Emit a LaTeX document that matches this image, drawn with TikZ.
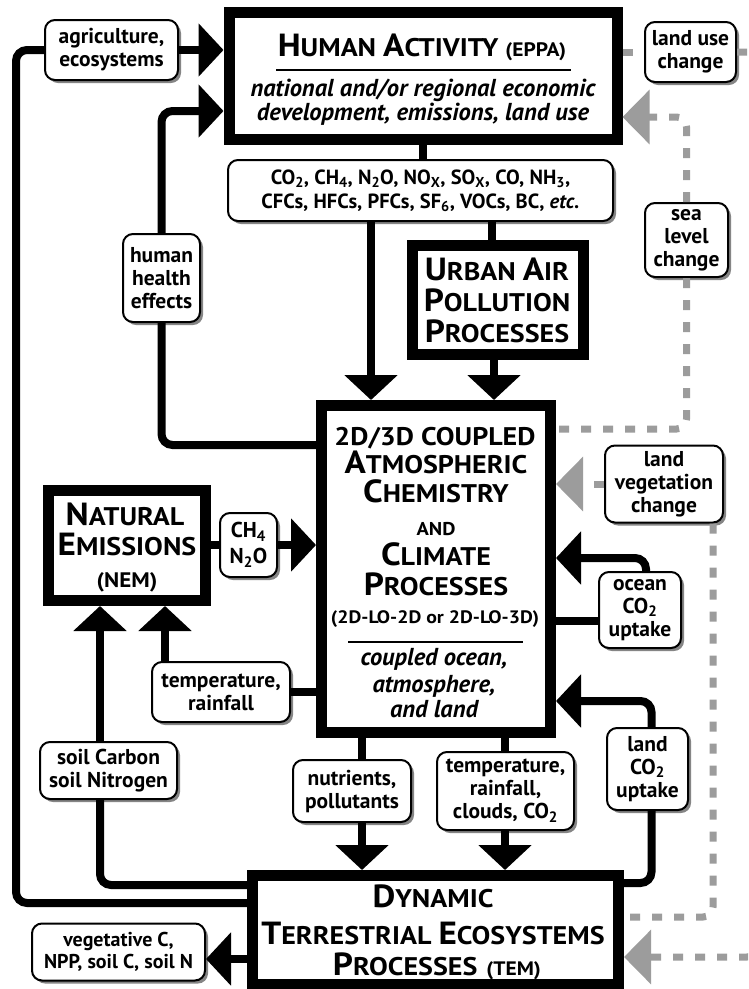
\documentclass[tikz,border=0pt]{standalone}
\usepackage{fontspec}
\setmainfont{PT Sans}
\newfontfamily\capf[FakeStretch=1.1]{PT Sans}
\usetikzlibrary{arrows.meta,shadows}
\definecolor{dgray}{HTML}{9C9C9C}
\definecolor{shgray}{HTML}{858585}
\newcommand\Bg[1]{{\fontsize{32}{32}\selectfont #1}}
\newcommand\Sm[1]{{\fontsize{25.5}{25.5}\selectfont #1}}
\newcommand\Tn[1]{{\fontsize{19.5}{19.5}\selectfont #1}}
\newcommand\sub[1]{\textsubscript{#1}}
\tikzset{
 conn/.style={line width=8pt, rounded corners=11pt},
 tip/.style={-{Triangle[length=25pt,width=52pt]}},
 gconn/.style={line width=7pt, draw=dgray, dash pattern=on 10pt off 12pt, rounded corners=10pt},
 gtip/.style={-{Triangle[length=27pt,width=53pt]}},
 bigbox/.style={draw, line width=11pt, inner sep=0pt, outer sep=5.5pt, fill=white},
 lab/.style={draw, line width=2pt, rounded corners=10pt, fill=white, inner sep=0pt, outer sep=1pt, align=center,
   font=\fontsize{21.5}{23}\selectfont\bfseries,
   drop shadow={shadow xshift=3pt, shadow yshift=-3pt, fill=shgray, opacity=1}},
 tx/.style={inner sep=0pt, anchor=base, font=\capf\fontsize{25.5}{25.5}\selectfont\bfseries},
 itx/.style={inner sep=0pt, anchor=base, font=\fontsize{24.5}{24.5}\selectfont\bfseries\itshape},
}
\begin{document}
\begin{tikzpicture}[x=1pt,y=-1pt]
\useasboundingbox (0,0) rectangle (748,989);
\clip (0,0) rectangle (748,989);
\fill[white] (0,0) rectangle (748,989);

% big boxes
\node[bigbox, minimum width=388pt, minimum height=127pt] (ha) at (423,75.5) {};
\node[bigbox, minimum width=171pt, minimum height=109pt] (urban) at (498,300) {};
\node[bigbox, minimum width=229pt, minimum height=327pt] (atm) at (436,569) {};
\node[bigbox, minimum width=157pt, minimum height=110pt] (nem) at (127,545.5) {};
\node[bigbox, minimum width=366pt, minimum height=109pt] (tem) at (435.5,930) {};

% texts of big boxes
\node[tx] (hat) at (422,56) {\Bg{H}\Sm{UMAN} \Bg{A}\Sm{CTIVITY} \Tn{(EPPA)}};
\draw[line width=2pt] (276,70) -- (571,70);
\node[itx] (hai1) at (423,96) {national and/or regional economic};
\node[itx] (hai2) at (423,120) {development, emissions, land use};

\node[tx] (ut1) at (497,280) {\Bg{U}\Sm{RBAN} \Bg{A}\Sm{IR}};
\node[tx] (ut2) at (497,311) {\Bg{P}\Sm{OLLUTION}};
\node[tx] (ut3) at (497,342) {\Bg{P}\Sm{ROCESSES}};

\node[tx] (at1) at (435,445) {2D/3D COUPLED};
\node[tx] (at2) at (436,473) {\Bg{A}\Sm{TMOSPHERIC}};
\node[tx] (at3) at (436,502) {\Bg{C}\Sm{HEMISTRY}};
\node[tx] (at4) at (436,535) {\fontsize{18.5}{18.5}\selectfont AND};
\node[tx] (at5) at (436,565) {\Bg{C}\Sm{LIMATE}};
\node[tx] (at6) at (436,595) {\Bg{P}\Sm{ROCESSES}};
\node[tx] (at7) at (435,623) {\fontsize{18}{18}\selectfont (2D-LO-2D or 2D-LO-3D)};
\draw[line width=2pt] (348,642) -- (523,642);
\node[itx] (at8) at (434,665) {coupled ocean,};
\node[itx] (at9) at (434,692) {atmosphere,};
\node[itx] (at10) at (434,717) {and land};

\node[tx] (nt1) at (125,525) {\Bg{N}\Sm{ATURAL}};
\node[tx] (nt2) at (127,555) {\Bg{E}\Sm{MISSIONS}};
\node[tx] (nt3) at (127,587) {\fontsize{21}{21}\selectfont (NEM)};

\node[tx] (tt1) at (433,907) {\Bg{D}\Sm{YNAMIC}};
\node[tx] (tt2) at (433,944) {\Bg{T}\Sm{ERRESTRIAL} \Bg{E}\Sm{COSYSTEMS}};
\node[tx] (tt3) at (437,975) {\Bg{P}\Sm{ROCESSES}\hspace{9pt}\Tn{(TEM)}};

% label boxes
\node[lab, minimum width=133pt, minimum height=60pt] (agri) at (111.5,50) {agriculture,\\ecosystems};
\node[lab, minimum width=91pt, minimum height=60pt] (lu) at (690.5,52) {land use\\change};
\node[lab, minimum width=385pt, minimum height=61pt, font=\fontsize{20.5}{24}\selectfont\bfseries] (emis) at (420.5,190.5)
 {CO\sub2, CH\sub4, N\sub2O, NO\sub{X}, SO\sub{X}, CO, NH\sub3,\\CFCs, HFCs, PFCs, SF\sub6, VOCs, BC, \textit{etc.}};
\node[lab, minimum width=77pt, minimum height=88pt] (hhe) at (161.5,278) {human\\health\\effects};
\node[lab, minimum width=83pt, minimum height=74pt] (sea) at (686.5,240) {sea\\level\\change};
\node[lab, minimum width=57pt, minimum height=64pt, font=\fontsize{21.5}{26}\selectfont\bfseries] (ch) at (248.5,545) {CH\sub4\\N\sub2O};
\node[lab, minimum width=118pt, minimum height=77pt] (lvc) at (664,484) {land\\vegetation\\change};
\node[lab, minimum width=82pt, minimum height=76pt] (ocean) at (640,610) {ocean\\CO\sub2\\uptake};
\node[lab, minimum width=138pt, minimum height=60pt] (temprain) at (221,692) {temperature,\\rainfall};
\node[lab, minimum width=137pt, minimum height=57pt] (soil) at (108.5,770.5) {soil Carbon\\soil Nitrogen};
\node[lab, minimum width=118pt, minimum height=62pt] (nut) at (352,791) {nutrients,\\pollutants};
\node[lab, minimum width=137pt, minimum height=78pt] (tcl) at (505.5,791) {temperature,\\rainfall,\\clouds, CO\sub2};
\node[lab, minimum width=81pt, minimum height=82pt] (lco) at (647.5,769) {land\\CO\sub2\\uptake};
\node[lab, minimum width=173pt, minimum height=57pt, font=\fontsize{20}{22}\selectfont\bfseries] (veg) at (118.5,952) {vegetative C,\\NPP, soil C, soil N};

% black connectors
\coordinate (cl) at (16,50);
\draw[conn] ([yshift=27pt]tem.west) -| (cl) -- (agri.west);
\draw[conn,tip] (agri.east) -- (agri.east -| ha.west);
\draw[conn] ([yshift=124pt]atm.west) -| (hhe.south);
\draw[conn,tip] (hhe.north) |- ([yshift=-35.5pt]ha.west);
\draw[conn] (ha.south) -- (ha.south |- emis.north);
\coordinate (e1) at ([xshift=-65pt]atm.north);
\draw[conn,tip] (e1 |- emis.south) -- (e1);
\coordinate (u1) at ([xshift=-6pt]urban.north);
\draw[conn] (u1 |- emis.south) -- (u1);
\coordinate (u2) at ([xshift=-4pt]urban.south);
\draw[conn,tip] (u2) -- (u2 |- atm.north);
\draw[conn] (nem.east |- ch.west) -- (ch.west);
\draw[conn,tip] (ch.east) -- (ch.east -| atm.west);
\coordinate (n1) at ([xshift=-27pt]nem.south);
\coordinate (n2) at ([xshift=38pt]nem.south);
\draw[conn,tip] (n1 |- soil.north) -- (n1);
\draw[conn,tip] (n2 |- temprain.north) -- (n2);
\draw[conn] (temprain.east) -- (temprain.east -| atm.west);
\coordinate (t1) at ([yshift=45pt]tem.west);
\draw[conn] (n1 |- soil.south) |- (t1);
\coordinate (a1) at ([xshift=-74pt]atm.south);
\coordinate (a2) at ([xshift=69pt]atm.south);
\draw[conn] (a1) -- (a1 |- nut.north);
\draw[conn,tip] (a1 |- nut.south) -- (a1 |- tem.north);
\draw[conn] (a2) -- (a2 |- tcl.north);
\draw[conn,tip] (a2 |- tcl.south) -- (a2 |- tem.north);
\coordinate (o1) at ([yshift=-11pt]ocean.west);
\draw[conn] (o1) -- (o1 -| atm.east);
\coordinate (o2) at ([xshift=6pt]ocean.north);
\coordinate (o3) at ([yshift=11pt]atm.east);
\draw[conn,tip] (o2) |- (o3);
\coordinate (l1) at ([xshift=4pt]lco.north);
\coordinate (l2) at ([xshift=4pt]lco.south);
\draw[conn,tip] (l1) |- ([yshift=-132pt]atm.east);
\draw[conn] (l2) |- ([yshift=47pt]tem.east);
\coordinate (t2) at ([yshift=-29pt]tem.west);
\draw[conn,tip] (t2) -- (t2 -| veg.east);

% gray dashed connectors
\draw[gconn] (ha.east |- lu.west) -- (lu.west);
\coordinate (xr) at (757,0);
\coordinate (t3) at ([yshift=-27pt]tem.east);
\draw[gconn,gtip] (lu.east) -- (lu.east -| xr) -- (xr |- t3) -- (t3);
\draw[gconn,gtip] (sea.north) |- ([yshift=-41.5pt]ha.east);
\coordinate (s2) at ([yshift=140pt]atm.east);
\draw[gconn] (sea.south) |- (s2);
\draw[gconn,gtip] (lvc.west) -- (lvc.west -| atm.east);
\coordinate (v1) at ([xshift=49pt]lvc.south);
\coordinate (t4) at ([yshift=13pt]tem.east);
\draw[gconn] (v1) |- (t4);
\end{tikzpicture}
\end{document}
